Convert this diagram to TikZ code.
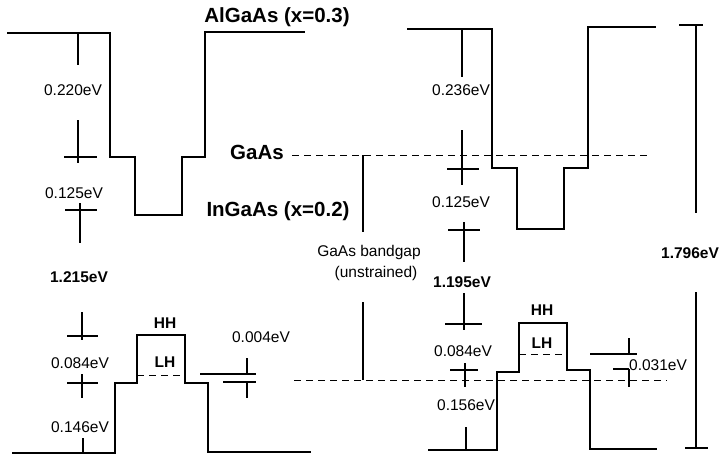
\documentclass[tikz,border=0pt]{standalone}
\usepackage{fontspec}
\setmainfont{Liberation Sans}
\tikzset{
  band/.style={line width=1.8pt, line join=miter},
  dim/.style={line width=1.4pt},
  dsh/.style={line width=1pt, dash pattern=on 7pt off 5pt},
  lbl/.style={inner sep=0pt, font=\fontsize{15.5}{18}\selectfont},
  blbl/.style={inner sep=0pt, font=\fontsize{15.5}{18}\selectfont\bfseries},
  ttl/.style={inner sep=0pt, font=\fontsize{20.5}{24}\selectfont\bfseries},
}
\begin{document}
\begin{tikzpicture}[x=1pt,y=-1pt]
\useasboundingbox (0,0) rectangle (719,455);
% ---------- left diagram ----------
\draw[band] (7,33) -- (110,33) -- (110,157) -- (135,157) -- (135,215) -- (182,215) -- (182,157) -- (205,157) -- (205,32) -- (305,32);
\draw[band] (12,453) -- (115,453) -- (115,383) -- (137,383) -- (137,335) -- (185,335) -- (185,383) -- (208,383) -- (208,452) -- (311,452);
\draw[dsh] (137,375) -- (185,375);
% dimension marks
\draw[dim] (78,33) -- (78,65);
\draw[dim] (78,120) -- (78,163);
\draw[dim] (64,157) -- (97,157);
\draw[dim] (80,203) -- (80,243);
\draw[dim] (65,210) -- (97,210);
\draw[dim] (82,312) -- (82,340);
\draw[dim] (67,336) -- (98,336);
\draw[dim] (82,374) -- (82,398);
\draw[dim] (67,383) -- (98,383);
\draw[dim] (83,438) -- (83,453);
% 0.004 eV marker
\draw[dim] (200,374) -- (256,374);
\draw[dim] (223,382) -- (256,382);
\draw[dim] (247,358) -- (247,374);
\draw[dim] (247,382) -- (247,398);
% ---------- GaAs reference lines ----------
\draw[dsh] (292,155) -- (648,155);
\draw[dsh] (294,380) -- (667,380);
\draw[dim] (363,155) -- (363,232);
\draw[dim] (363,302) -- (363,380);
% ---------- right diagram ----------
\draw[band] (407,29) -- (492,29) -- (492,168) -- (517,168) -- (517,229) -- (564,229) -- (564,168) -- (588,168) -- (588,27) -- (656,27);
\draw[band] (428,450) -- (497,450) -- (497,372) -- (519,372) -- (519,323) -- (567,323) -- (567,370) -- (590,370) -- (590,449) -- (657,449);
\draw[dsh] (519,354) -- (567,354);
\draw[dim] (462,29) -- (462,77);
\draw[dim] (462,130) -- (462,185);
\draw[dim] (447,169) -- (479,169);
\draw[dim] (464,222) -- (464,262);
\draw[dim] (448,230) -- (480,230);
\draw[dim] (464,293) -- (464,330);
\draw[dim] (445,324) -- (482,324);
\draw[dim] (465,363) -- (465,387);
\draw[dim] (450,370) -- (478,370);
\draw[dim] (466,427) -- (466,450);
% 0.031 eV marker
\draw[dim] (590,354) -- (637,354);
\draw[dim] (629,338) -- (629,354);
\draw[dim] (613,369) -- (629,369);
\draw[dim] (629,369) -- (629,387);
% 1.796 eV bar
\draw[dim] (679,25) -- (703,25);
\draw[dim] (696,25) -- (696,213);
\draw[dim] (696,292) -- (696,448);
\draw[dim] (685,448) -- (708,448);
% ---------- labels ----------
\node[ttl] (algaas) at (277,17) {AlGaAs (x=0.3)};
\node[ttl] (gaas) at (257,152) {GaAs};
\node[ttl] (ingaas) at (278,211) {InGaAs (x=0.2)};
\node[lbl] (l220) at (73,90) {0.220eV};
\node[lbl] (l125) at (74,193) {0.125eV};
\node[blbl] (l1215) at (79,277) {1.215eV};
\node[lbl] (l084) at (80,363) {0.084eV};
\node[lbl] (l146) at (80,427) {0.146eV};
\node[blbl] (hh1) at (165,323) {HH};
\node[blbl] (lh1) at (165,362) {LH};
\node[lbl] (l004) at (261,337) {0.004eV};
\node[lbl] (bg1) at (369,252) {GaAs bandgap};
\node[lbl] (bg2) at (376,273) {(unstrained)};
\node[lbl] (r236) at (461,90) {0.236eV};
\node[lbl] (r125) at (461,202) {0.125eV};
\node[blbl] (r1195) at (462,282) {1.195eV};
\node[lbl] (r084) at (463,351) {0.084eV};
\node[lbl] (r156) at (466,405) {0.156eV};
\node[blbl] (hh2) at (542,310) {HH};
\node[blbl] (lh2) at (542,343) {LH};
\node[lbl] (r031) at (658,365) {0.031eV};
\node[blbl] (r1796) at (690,253) {1.796eV};
\end{tikzpicture}
\end{document}
